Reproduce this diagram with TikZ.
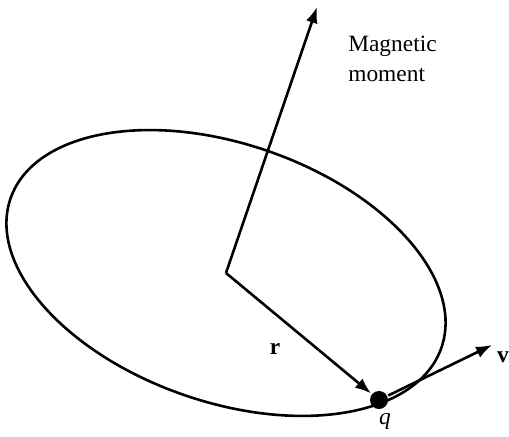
\documentclass[tikz,border=0pt]{standalone}
\usepackage{fontspec}
\setmainfont{Liberation Serif}
\usetikzlibrary{arrows.meta}

\begin{document}
\begin{tikzpicture}[x=0.5pt, y=-0.5pt, line width=1.3pt,
	every node/.style={font=\fontsize{11.7}{15}\selectfont, inner sep=0pt},
	vec/.style={-{Latex[length=8pt, width=6pt]}}]
	\useasboundingbox (0,0) rectangle (509,436);
	\coordinate (O) at (226,273);
	\coordinate (mtip) at (317,7);
	\coordinate (vtip) at (492,345);
	\draw[rotate around={-19.1:(O)}] (O) ellipse [x radius=228, y radius=129];
	\node[circle, fill, minimum size=9pt] (q) at (379,400) {};
	\draw[vec] (O) -- (mtip);
	\draw[vec] (O) -- (q);
	\draw[vec] (q) -- (vtip);
	\node[anchor=north west, align=left] (mlabel) at (347,35) {Magnetic\\moment};
	\node (rlabel) at (275,349) {\textbf{r}};
	\node (qlabel) at (385,421) {\textit{q}};
	\node (vlabel) at (503,357) {\textbf{v}};
\end{tikzpicture}
\end{document}
